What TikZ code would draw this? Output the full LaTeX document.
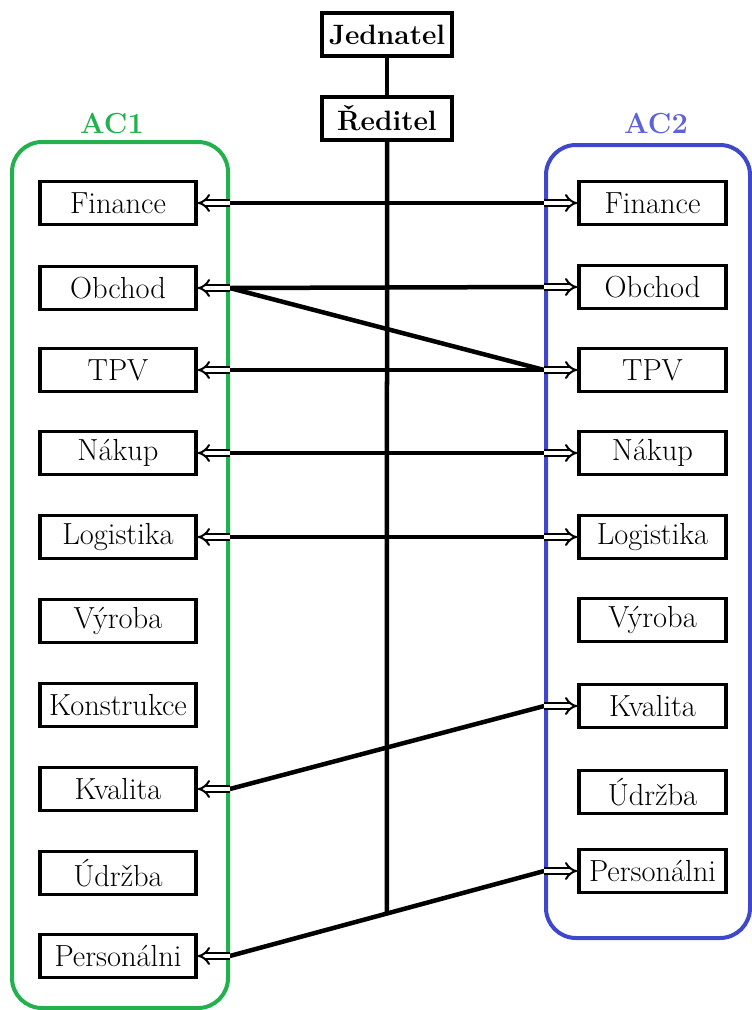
\documentclass[tikz,border=0pt]{standalone}
\usetikzlibrary{arrows.meta,calc}
\definecolor{acg}{RGB}{34,177,76}
\definecolor{acb}{RGB}{63,72,204}
\begin{document}
\begin{tikzpicture}[x=1pt,y=-1pt,
  txt/.style={font=\rmfamily\fontsize{30.5}{34}\selectfont},
  unit/.style={txt,draw=black,line width=3.6pt,inner sep=0pt,minimum height=43pt,fill=white},
  lunit/.style={unit,minimum width=156pt},
  runit/.style={unit,minimum width=147pt},
  topunit/.style={unit,minimum width=130pt,font=\rmfamily\fontsize{28}{34}\selectfont\bfseries},
  link/.style={line width=4.5pt},
  dbl/.style={double,double distance=4pt,line width=2pt,-{Implies}},
  cont/.style={line width=4pt,rounded corners=30pt},
  clabel/.style={font=\rmfamily\fontsize{29}{34}\selectfont\bfseries}]
\useasboundingbox (0,0) rectangle (752,1010);
% containers
\draw[cont,acg] (12,142) rectangle (228,1008);
\draw[cont,acb] (546,145) rectangle (750,938);
\node[clabel,text=acg] (ac1) at (112,124) {AC1};
\node[clabel,text=acb!85!white] (ac2) at (656,124) {AC2};
% top
\node[topunit] (Jed) at (387,34.5) {Jednatel};
\node[topunit] (Red) at (387,118.5) {Ředitel};
% left units
\node[lunit] (LFin) at (118,203) {Finance};
\node[lunit] (LObc) at (118,288) {Obchod};
\node[lunit] (LTPV) at (118,370) {TPV};
\node[lunit] (LNak) at (118,453) {Nákup};
\node[lunit] (LLog) at (118,537) {Logistika};
\node[lunit] (LVyr) at (118,621) {Výroba};
\node[lunit] (LKon) at (118,705) {Konstrukce};
\node[lunit] (LKva) at (118,789) {Kvalita};
\node[lunit] (LUdr) at (118,873) {Údržba};
\node[lunit] (LPer) at (118,956) {Personálni};
% right units
\node[runit] (RFin) at (652.5,203) {Finance};
\node[runit] (RObc) at (652.5,287) {Obchod};
\node[runit] (RTPV) at (652.5,370) {TPV};
\node[runit] (RNak) at (652.5,453) {Nákup};
\node[runit] (RLog) at (652.5,537) {Logistika};
\node[runit] (RVyr) at (652.5,620) {Výroba};
\node[runit] (RKva) at (652.5,706) {Kvalita};
\node[runit] (RUdr) at (652.5,792) {Údržba};
\node[runit] (RPer) at (652.5,871) {Personálni};
% edge coordinates
\foreach \n in {Fin,Obc,TPV,Nak,Log,Kva,Per}{
  \coordinate (l\n) at ($(L\n.east)+(32,0)$);
  \coordinate (r\n) at ($(R\n.west)+(-33,0)$);
}
% hierarchy line
\coordinate (Rdown) at ($(Red.south)+(0,100)$);
\coordinate (v) at (intersection of Red.south--Rdown and lPer--rPer);
\draw[link] (Jed.south) -- (Red.north);
\draw[link] (Red.south) -- (v);
% links
\draw[link] (lFin) -- (rFin);
\draw[link] (lObc) -- (rObc);
\draw[link] (lObc) -- (rTPV);
\draw[link] (lTPV) -- (rTPV);
\draw[link] (lNak) -- (rNak);
\draw[link] (lLog) -- (rLog);
\draw[link] (lKva) -- (rKva);
\draw[link] (lPer) -- (rPer);
% arrows
\foreach \n in {Fin,Obc,TPV,Nak,Log,Kva,Per}{
  \draw[dbl] (l\n) -- (L\n.east);
  \draw[dbl] (r\n) -- (R\n.west);
}
\end{tikzpicture}
\end{document}
